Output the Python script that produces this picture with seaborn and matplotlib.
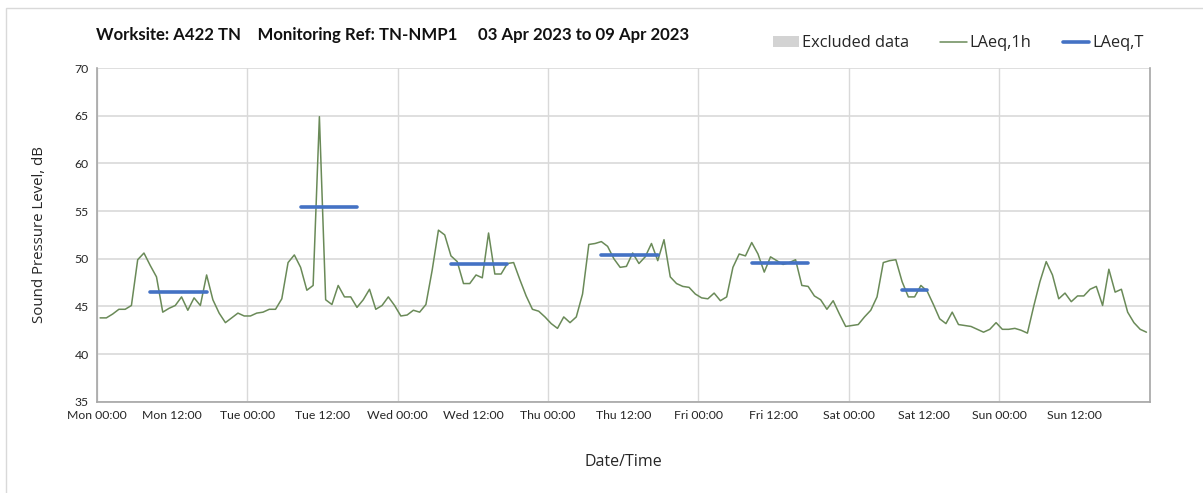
"""Weekly noise monitoring chart: hourly LAeq with period LAeq,T bars."""

import numpy as np
import pandas as pd
import seaborn as sns
import matplotlib
matplotlib.use('Agg')
import matplotlib.pyplot as plt
import matplotlib.dates as mdates
from matplotlib.patches import Patch, Rectangle
from matplotlib.lines import Line2D

# -----------------------------------------------------------------------------
# Data

start = '2023-04-03 00:00'

# Hourly LAeq,1h values, Mon 00:00 to Sun 23:00
laeq_mon = [43.8, 43.8, 44.2, 44.7, 44.7, 45.1, 49.9, 50.6, 49.3, 48.1, 44.4, 44.8,
            45.1, 46.0, 44.6, 45.9, 45.1, 48.3, 45.7, 44.3, 43.3, 43.8, 44.3, 44.0]
laeq_tue = [44.0, 44.3, 44.4, 44.7, 44.7, 45.8, 49.6, 50.4, 49.1, 46.7, 47.2, 64.9,
            45.7, 45.2, 47.2, 46.0, 46.0, 44.9, 45.7, 46.8, 44.7, 45.1, 46.0, 45.1]
laeq_wed = [44.0, 44.1, 44.6, 44.4, 45.2, 48.8, 53.0, 52.5, 50.3, 49.7, 47.4, 47.4,
            48.3, 48.0, 52.7, 48.4, 48.4, 49.5, 49.6, 47.8, 46.1, 44.7, 44.5, 43.9]
laeq_thu = [43.2, 42.7, 43.9, 43.3, 43.9, 46.3, 51.5, 51.6, 51.8, 51.3, 50.0, 49.1,
            49.2, 50.6, 49.5, 50.2, 51.6, 49.8, 52.0, 48.1, 47.4, 47.1, 47.0, 46.3]
laeq_fri = [45.9, 45.8, 46.4, 45.6, 46.0, 49.1, 50.5, 50.3, 51.7, 50.5, 48.6, 50.2,
            49.8, 49.4, 49.6, 49.9, 47.2, 47.1, 46.1, 45.7, 44.7, 45.6, 44.2, 42.9]
laeq_sat = [43.0, 43.1, 43.9, 44.6, 46.0, 49.6, 49.8, 49.9, 47.6, 46.0, 46.0, 47.2,
            46.6, 45.2, 43.7, 43.2, 44.4, 43.1, 43.0, 42.9, 42.6, 42.3, 42.6, 43.3]
laeq_sun = [42.6, 42.6, 42.7, 42.5, 42.2, 45.0, 47.6, 49.7, 48.3, 45.8, 46.4, 45.5,
            46.1, 46.1, 46.8, 47.1, 45.1, 48.9, 46.5, 46.8, 44.4, 43.3, 42.6, 42.3]

# LAeq,T over the working periods
period_start = ['2023-04-03 08:00', '2023-04-04 08:00', '2023-04-05 08:00',
                '2023-04-06 08:00', '2023-04-07 08:00', '2023-04-08 08:00']
period_end = ['2023-04-03 18:00', '2023-04-04 18:00', '2023-04-05 18:00',
              '2023-04-06 18:00', '2023-04-07 18:00', '2023-04-08 13:00']
laeq_t = [46.5, 55.4, 49.4, 50.4, 49.6, 46.7]

title = 'Worksite: A422 TN    Monitoring Ref: TN-NMP1     03 Apr 2023 to 09 Apr 2023'

# -----------------------------------------------------------------------------

def main():
    sns.set_style('white')
    plt.rcParams['font.family'] = ['Lato', 'DejaVu Sans']

    green = '#6a8a58'
    blue = '#4472c4'
    grid = '#d9d9d9'
    spine = '#a6a6a6'
    text = '#262626'

    # Hourly values plotted at the middle of each hour.
    values = laeq_mon + laeq_tue + laeq_wed + laeq_thu + laeq_fri + laeq_sat + laeq_sun
    hourly = pd.DataFrame({
        'time': pd.date_range(start, periods=len(values), freq='h') + pd.Timedelta(minutes=30),
        'level': values,
    })

    half = pd.Timedelta(minutes=30)
    rows = []
    for i, (s, e, v) in enumerate(zip(period_start, period_end, laeq_t)):
        rows.append({'period': i, 'time': pd.Timestamp(s) + half, 'level': v})
        rows.append({'period': i, 'time': pd.Timestamp(e) - half, 'level': v})
    periods = pd.DataFrame(rows)

    fig = plt.figure(figsize=(12.03, 4.93), dpi=100)
    ax = fig.add_axes([0.0806, 0.185, 0.875, 0.677])

    sns.lineplot(data=hourly, x='time', y='level', color=green, linewidth=1.1, ax=ax)
    sns.lineplot(data=periods, x='time', y='level', units='period', estimator=None,
                 color=blue, linewidth=2.6, ax=ax)

    # Axes limits and ticks.
    t0 = pd.Timestamp(start)
    t1 = t0 + pd.Timedelta(days=7)
    ax.set_xlim(t0, t1)
    ax.set_ylim(35, 70)
    ax.set_yticks(np.arange(35, 71, 5))

    ticks = pd.date_range(t0, t1, freq='12h')
    labels = [t.strftime('%a %H:%M') for t in ticks[:-1]] + ['']
    ax.set_xticks(ticks)
    ax.set_xticklabels(labels)
    ax.xaxis.set_minor_locator(mdates.DayLocator())
    ax.xaxis.remove_overlapping_locs = False

    ax.grid(axis='y', which='major', color=grid, linewidth=1.2)
    ax.grid(axis='x', which='minor', color=grid, linewidth=1.0)
    ax.grid(axis='x', which='major', visible=False)
    ax.tick_params(axis='both', which='major', direction='out', length=4, width=1,
                   color=spine, labelsize=8.8, labelcolor=text, pad=2)
    ax.tick_params(axis='x', which='minor', length=0)
    for side in ['left', 'bottom', 'right']:
        ax.spines[side].set_color(spine)
        ax.spines[side].set_linewidth(1.2)
    ax.spines['top'].set_visible(False)

    ax.set_xlabel('Date/Time', fontsize=11.5, color=text, labelpad=24,
                  family=['Open Sans', 'DejaVu Sans'])
    ax.set_ylabel('Sound Pressure Level, dB', fontsize=10.8, color=text, labelpad=20,
                  family=['Open Sans', 'DejaVu Sans'])

    fig.text(0.080, 0.918, title, fontsize=12.1, fontweight='bold', color='#111111')

    handles = [
        Patch(facecolor='#d3d3d3', edgecolor='none'),
        Line2D([], [], color=green, linewidth=1.1),
        Line2D([], [], color=blue, linewidth=2.6),
    ]
    fig.legend(handles, ['Excluded data', 'LAeq,1h', 'LAeq,T'], ncol=3, frameon=False,
               loc='center right', bbox_to_anchor=(0.963, 0.912),
               columnspacing=1.9, handlelength=1.6, handletextpad=0.2,
               labelcolor=text, prop={'family': ['Open Sans', 'DejaVu Sans'], 'size': 11.8})

    # Light frame around the chart area.
    fig.patches.append(Rectangle((6 / 1203, -0.01), 1.0, 0.994, transform=fig.transFigure,
                                 fill=False, edgecolor='#d9d9d9', linewidth=1.0))

    fig.savefig('out.png', dpi=100)

# -----------------------------------------------------------------------------

if __name__ == '__main__':
    main()
